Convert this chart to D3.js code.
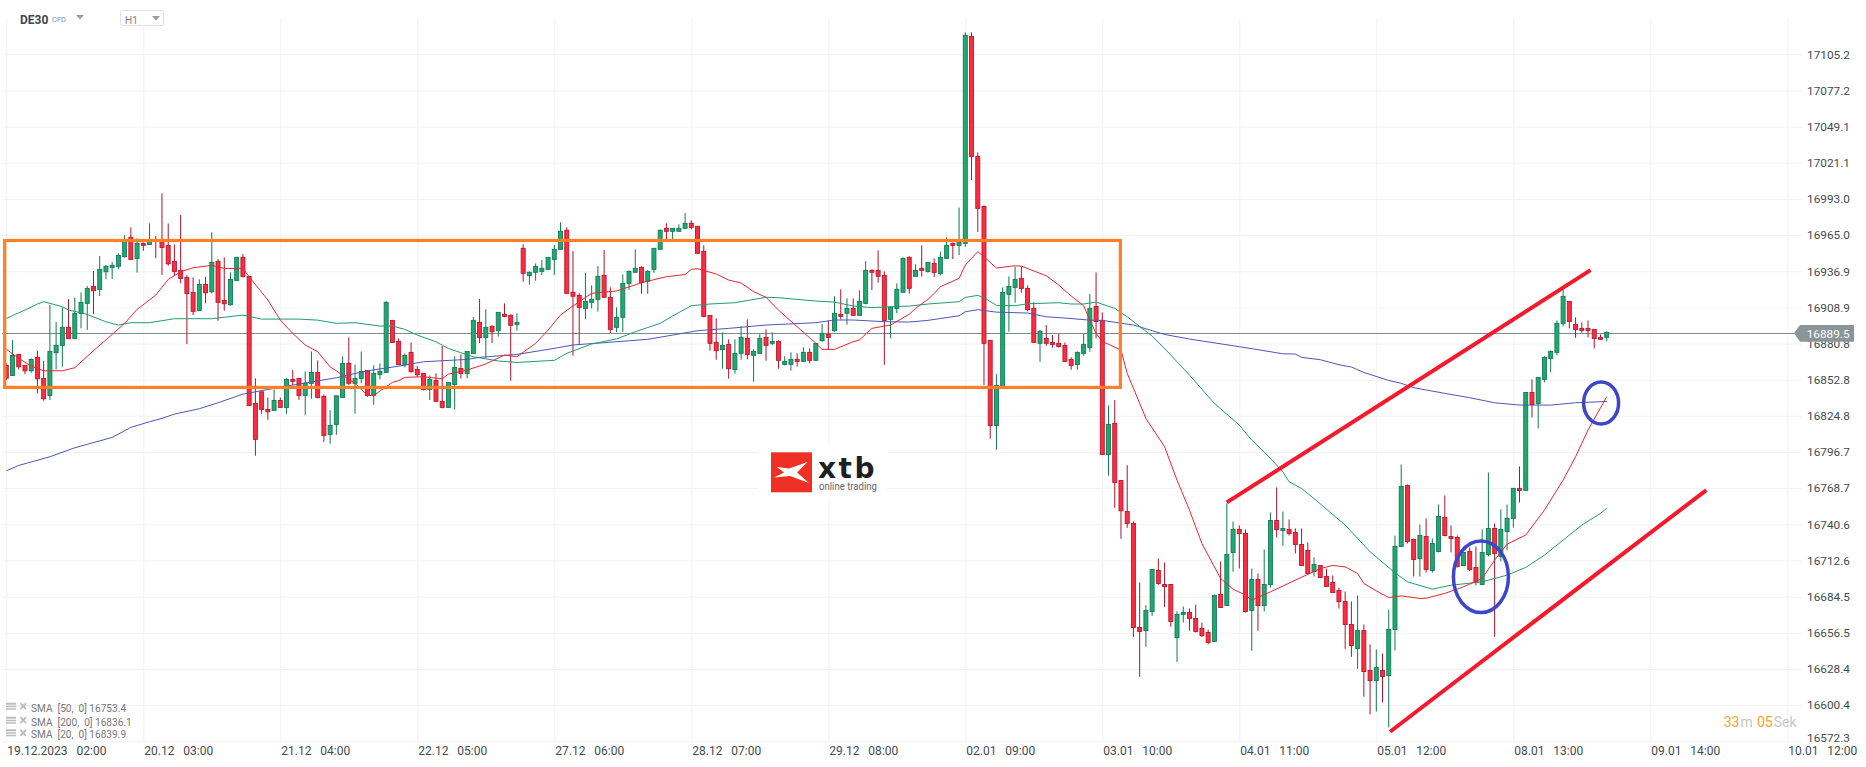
<!DOCTYPE html>
<html>
<head>
<meta charset="utf-8">
<title>DE30 H1</title>
<script src="https://cdn.jsdelivr.net/npm/d3@7"></script>
<style>
  html, body { margin: 0; padding: 0; background: #fff; }
  svg { display: block; font-family: Roboto, sans-serif; }
  text { white-space: pre; }
</style>
</head>
<body>
<svg id="chart" width="1866" height="767"></svg>
<script>
// Values, one entry per hourly bar

var opens = [
  16863.9,16856.1,16872.4,16863.9,16859.7,16870.1,16853.8,16840.6,16873.7,16879.4,
  16893.4,16884.6,16904.2,16912.0,16925.2,16922.8,16936.5,16939.9,16940.7,16948.2,
  16963.2,16946.9,16958.5,16957.7,16961.1,16961.6,16957.0,16944.6,16937.6,16932.1,
  16920.5,16906.5,16926.7,16921.0,16944.6,16914.3,16910.9,16929.8,16947.7,16932.9,
  16834.4,16843.4,16829.7,16829.0,16836.7,16831.3,16853.0,16853.8,16840.6,16850.0,
  16858.4,16839.8,16810.3,16818.1,16839.0,16865.4,16850.0,16853.8,16860.0,16840.6,
  16856.9,16858.4,16898.8,16882.5,16864.4,16874.0,16860.8,16857.7,16845.2,16852.2,
  16836.0,16831.3,16849.1,16861.5,16857.7,16873.0,16897.3,16885.4,16894.2,16890.8,
  16903.5,16902.7,16895.7,16954.7,16933.5,16936.1,16936.8,16938.4,16946.1,16953.9,
  16968.7,16920.6,16918.2,16908.1,16912.8,16915.1,16933.7,16916.7,16893.4,16901.2,
  16927.5,16936.1,16940.0,16929.1,16938.4,16953.9,16970.2,16967.9,16967.9,16970.2,
  16974.1,16971.8,16952.4,16902.7,16881.8,16876.1,16880.2,16860.6,16873.2,16884.9,
  16871.7,16873.2,16885.6,16881.0,16882.5,16864.7,16864.7,16868.6,16867.0,16874.0,
  16867.8,16883.1,16888.0,16890.8,16903.5,16904.3,16908.1,16902.7,16912.0,16937.6,
  16937.6,16933.7,16899.6,16908.1,16920.6,16947.7,16933.0,16939.2,16936.8,16943.0,
  16935.2,16946.9,16958.5,16957.0,16958.5,17119.1,17026.0,16987.2,16883.3,16817.3,
  16847.3,16919.0,16924.4,16931.4,16923.6,16908.1,16881.0,16884.8,16881.7,16881.0,
  16879.4,16868.5,16864.6,16873.2,16877.8,16909.6,16898.8,16794.8,16818.9,16774.6,
  16750.6,16741.3,16660.6,16658.2,16673.0,16704.8,16693.9,16693.9,16652.8,16670.7,
  16672.2,16667.6,16659.8,16656.7,16649.7,16686.2,16677.6,16718.8,16736.6,16733.5,
  16673.8,16697.8,16677.6,16693.9,16743.6,16735.8,16736.6,16734.3,16725.0,16720.3,
  16704.0,16708.7,16700.1,16695.5,16689.3,16680.7,16662.9,16644.3,16658.2,16627.2,
  16619.4,16627.2,16623.3,16659.0,16723.4,16770.7,16728.8,16714.1,16731.2,16704.8,
  16719.5,16745.9,16731.2,16730.4,16708.7,16719.5,16707.1,16693.9,16717.2,16737.4,
  16715.7,16735.1,16745.2,16768.5,16766.9,16842.9,16834.4,16853.0,16869.3,16874.0,
  16896.5,16913.5,16895.7,16892.6,16892.6,16891.8,16885.6,16885.6
];

var highs = [
  16865.4,16883.5,16872.4,16863.9,16869.3,16875.3,16867.2,16910.7,16897.7,16908.9,
  16915.3,16916.6,16920.5,16925.4,16937.1,16948.7,16941.7,16944.0,16950.8,16965.0,
  16970.9,16962.4,16959.3,16974.0,16964.2,16997.3,16974.0,16957.7,16980.5,16934.0,
  16932.1,16930.6,16932.6,16967.1,16946.4,16947.7,16936.0,16947.7,16950.2,16932.9,
  16853.8,16843.4,16839.0,16845.2,16839.0,16853.8,16860.3,16853.8,16859.2,16874.7,
  16867.7,16841.4,16829.2,16840.3,16870.9,16885.6,16864.6,16874.7,16860.0,16863.9,
  16865.4,16913.8,16898.8,16884.8,16873.2,16881.7,16863.3,16857.7,16856.1,16857.7,
  16878.9,16850.7,16870.9,16872.4,16874.7,16901.4,16915.4,16907.4,16895.0,16905.0,
  16912.0,16903.5,16904.3,16957.8,16936.8,16943.0,16945.6,16947.7,16957.3,16974.9,
  16971.0,16952.6,16919.8,16935.6,16926.0,16941.0,16953.4,16924.4,16908.9,16934.5,
  16937.6,16953.9,16940.7,16937.6,16954.7,16969.4,16974.1,16970.2,16973.3,16982.1,
  16976.4,16971.8,16957.0,16902.7,16900.4,16889.5,16884.1,16884.1,16894.2,16899.6,
  16876.3,16888.0,16891.8,16889.5,16883.3,16870.9,16874.0,16873.2,16877.9,16877.1,
  16881.0,16896.0,16898.8,16917.5,16922.9,16915.9,16915.9,16922.1,16944.9,16938.4,
  16953.1,16936.8,16909.7,16927.5,16947.7,16948.5,16942.3,16957.0,16943.8,16946.9,
  16952.1,16963.2,16959.3,16986.4,17122.2,17122.2,17029.1,16988.0,16883.3,16857.1,
  16924.4,16932.9,16940.4,16940.4,16925.9,16912.8,16891.3,16895.2,16887.4,16888.2,
  16881.7,16870.1,16874.7,16888.2,16919.2,16936.0,16905.0,16832.8,16837.0,16774.6,
  16786.5,16742.8,16695.5,16677.9,16705.6,16714.1,16711.0,16693.9,16673.0,16676.9,
  16675.3,16678.4,16664.4,16659.0,16686.2,16711.8,16756.8,16742.8,16739.7,16736.6,
  16706.3,16702.5,16721.1,16749.8,16769.2,16750.6,16744.4,16737.4,16737.4,16726.5,
  16714.9,16708.7,16706.3,16700.9,16691.6,16688.5,16680.7,16685.4,16662.9,16647.4,
  16643.5,16640.4,16674.5,16731.9,16787.0,16771.5,16729.6,16740.5,16745.1,16729.6,
  16756.0,16763.0,16739.7,16731.9,16718.8,16722.6,16723.4,16736.6,16780.8,16741.3,
  16752.2,16756.0,16768.5,16785.5,16842.9,16853.0,16854.6,16870.9,16875.5,16898.8,
  16922.8,16913.5,16901.1,16897.2,16898.8,16891.8,16887.9,16890.3
];

var lows = [
  16852.5,16856.1,16860.8,16857.1,16858.2,16842.2,16836.5,16837.0,16860.8,16862.8,
  16884.6,16884.6,16892.6,16891.3,16903.7,16917.7,16930.6,16930.9,16938.4,16947.4,
  16946.1,16935.8,16952.8,16957.7,16947.1,16934.0,16941.2,16933.7,16927.5,16880.4,
  16902.9,16906.5,16912.0,16919.7,16898.5,16906.3,16910.2,16929.8,16932.1,16832.8,
  16793.8,16826.4,16821.7,16829.0,16831.3,16826.4,16848.4,16837.2,16825.6,16838.0,
  16838.3,16804.6,16803.1,16810.1,16839.0,16848.6,16826.4,16850.0,16839.6,16833.4,
  16853.0,16858.4,16881.7,16864.4,16862.3,16858.2,16855.1,16844.5,16837.0,16836.0,
  16830.5,16831.3,16829.7,16853.8,16853.8,16873.0,16881.2,16869.4,16881.2,16886.2,
  16901.2,16852.0,16890.8,16928.8,16926.5,16929.6,16934.0,16938.4,16934.0,16953.9,
  16919.8,16871.4,16880.2,16899.9,16908.1,16905.6,16916.7,16889.0,16889.8,16889.8,
  16922.4,16936.1,16919.5,16919.5,16935.8,16953.9,16961.7,16961.7,16967.9,16970.2,
  16969.4,16950.8,16901.2,16875.3,16868.3,16861.3,16853.6,16857.4,16868.3,16868.6,
  16851.2,16873.2,16867.5,16879.7,16861.3,16863.9,16859.8,16862.9,16867.0,16865.5,
  16867.8,16882.3,16876.3,16890.0,16899.6,16895.5,16902.7,16902.7,16911.2,16922.4,
  16928.0,16864.4,16884.9,16904.3,16920.6,16919.5,16933.0,16932.7,16935.8,16932.6,
  16933.7,16946.9,16946.4,16949.5,16955.9,17007.7,16967.3,16848.6,16807.0,16798.4,
  16847.3,16890.0,16912.5,16920.2,16905.8,16881.7,16866.7,16879.1,16877.6,16877.8,
  16867.0,16860.5,16860.5,16871.4,16874.5,16884.8,16794.8,16778.3,16753.4,16729.4,
  16737.9,16653.3,16622.3,16645.6,16669.6,16693.7,16676.6,16661.1,16633.9,16664.4,
  16658.2,16656.7,16653.3,16647.4,16649.7,16676.1,16677.6,16703.8,16706.3,16672.2,
  16642.5,16658.0,16673.0,16691.6,16730.4,16723.9,16731.9,16718.0,16708.7,16702.5,
  16700.1,16699.4,16692.4,16687.7,16675.3,16644.0,16637.8,16628.5,16606.8,16593.1,
  16595.4,16602.4,16583.0,16642.7,16723.4,16725.7,16700.1,16700.1,16703.2,16703.2,
  16718.8,16731.2,16718.8,16707.1,16708.7,16704.3,16693.2,16693.9,16715.7,16653.3,
  16712.0,16720.4,16738.0,16757.6,16766.9,16823.5,16815.0,16850.7,16858.5,16871.6,
  16894.1,16892.6,16885.3,16889.2,16885.6,16877.1,16884.1,16882.5
];

var closes = [
  16854.0,16871.6,16862.8,16859.7,16868.5,16853.5,16838.0,16874.7,16879.4,16893.4,
  16884.6,16904.2,16912.8,16923.6,16921.8,16938.4,16940.7,16941.5,16949.2,16960.1,
  16946.1,16958.5,16957.0,16960.1,16960.1,16955.4,16942.7,16936.8,16931.4,16919.7,
  16905.8,16926.7,16920.2,16943.8,16912.8,16911.7,16930.6,16947.7,16932.9,16832.8,
  16806.5,16829.7,16827.9,16836.7,16831.3,16853.0,16851.5,16840.6,16850.0,16858.4,
  16839.0,16809.6,16817.3,16840.3,16865.4,16850.0,16853.8,16859.2,16840.6,16857.7,
  16859.2,16912.8,16881.7,16864.4,16871.6,16859.2,16856.6,16845.2,16853.0,16836.0,
  16831.3,16850.7,16862.3,16857.7,16874.7,16898.8,16885.4,16893.4,16890.0,16905.0,
  16901.9,16895.0,16897.3,16935.3,16936.1,16940.7,16939.2,16947.7,16953.9,16967.9,
  16919.8,16917.5,16908.9,16913.6,16915.1,16933.0,16916.7,16891.8,16901.2,16927.5,
  16936.8,16939.2,16928.3,16936.8,16954.7,16968.7,16967.9,16970.2,16970.2,16974.1,
  16971.0,16950.8,16901.9,16881.0,16875.3,16879.4,16861.3,16873.2,16885.6,16872.4,
  16874.8,16884.9,16879.4,16882.5,16867.8,16867.0,16868.6,16867.0,16874.0,16867.8,
  16881.0,16888.7,16885.6,16904.3,16901.9,16908.1,16902.7,16913.6,16937.6,16936.1,
  16933.0,16898.8,16908.9,16922.9,16946.9,16923.7,16937.6,16937.6,16943.8,16936.0,
  16947.7,16957.0,16957.0,16959.3,17119.9,17026.0,16985.7,16881.0,16817.3,16848.4,
  16920.5,16925.2,16930.6,16923.6,16907.3,16881.7,16890.3,16881.0,16880.2,16878.6,
  16867.0,16863.9,16874.0,16880.2,16908.1,16898.0,16794.8,16818.1,16773.1,16751.1,
  16741.3,16660.6,16657.5,16673.8,16705.6,16694.7,16692.4,16665.2,16670.7,16672.2,
  16667.6,16657.5,16654.4,16649.0,16685.4,16676.1,16717.2,16736.6,16733.5,16673.0,
  16697.8,16677.6,16693.9,16743.6,16736.6,16737.4,16733.5,16725.0,16708.7,16702.5,
  16709.4,16699.4,16692.4,16687.7,16680.7,16662.9,16646.6,16658.2,16626.4,16619.4,
  16629.5,16622.6,16659.0,16723.4,16770.0,16727.3,16713.3,16731.9,16705.6,16725.7,
  16746.7,16731.9,16729.6,16707.9,16718.8,16705.6,16695.5,16718.8,16737.4,16718.0,
  16736.6,16745.2,16768.5,16766.9,16842.9,16833.6,16854.6,16870.1,16874.7,16896.5,
  16917.4,16898.0,16891.8,16891.0,16891.0,16884.8,16884.1,16889.5
];

// Moving averages, read at the bars where the line bends: [bar, price]
var sma20 = [
  [0,16876.5],[2,16869.3],[4,16863.3],[6,16859.7],[9,16859.7],[11,16862.1],[14,16875.3],[17,16887.9],
  [19,16896.5],[21,16907.3],[24,16918.4],[26,16930.6],[28,16936.5],[30,16939.6],[33,16941.5],[35,16939.1],
  [38,16939.1],[39,16932.6],[42,16914.6],[44,16899.0],[46,16888.7],[48,16879.7],[50,16874.5],[52,16862.8],
  [54,16856.4],[56,16850.0],[58,16840.6],[59,16840.6],[62,16850.7],[63,16852.0],[64,16854.6],[67,16855.1],
  [70,16853.5],[71,16857.1],[74,16860.3],[77,16865.0],[80,16871.9],[82,16870.6],[85,16881.0],[87,16891.3],
  [89,16903.0],[91,16910.0],[94,16919.8],[98,16921.6],[102,16928.0],[106,16932.7],[109,16934.3],[110,16938.4],
  [111,16938.9],[114,16934.8],[116,16930.1],[118,16927.8],[120,16921.1],[122,16916.7],[124,16906.8],[127,16893.9],
  [130,16881.0],[131,16876.3],[133,16876.3],[136,16882.3],[137,16883.6],[139,16892.6],[141,16894.4],[142,16895.2],
  [145,16903.5],[146,16908.1],[148,16915.1],[149,16919.7],[150,16924.9],[153,16931.4],[154,16941.7],[156,16952.1],
  [157,16948.2],[159,16939.4],[162,16941.2],[163,16940.9],[167,16933.4],[169,16926.2],[171,16917.7],[173,16910.2],
  [174,16899.0],[175,16888.7],[176,16882.5],[179,16875.8],[180,16857.7],[183,16822.8],[186,16800.8],[188,16774.9],
  [190,16751.6],[192,16725.7],[195,16698.6],[197,16690.3],[199,16685.7],[200,16681.8],[203,16688.2],[207,16697.3],
  [211,16706.3],[213,16708.7],[215,16707.6],[217,16702.5],[218,16694.7],[220,16689.0],[222,16683.8],[224,16685.1],
  [227,16683.1],[228,16683.3],[231,16687.0],[234,16692.1],[237,16698.6],[239,16712.8],[241,16725.2],[244,16732.3],
  [247,16751.7],[250,16774.9],[252,16793.0],[254,16813.7],[257,16839.6]
];

var sma50 = [
  [0,16900.3],[2,16904.7],[3,16906.8],[5,16911.5],[6,16913.3],[7,16912.0],[9,16909.4],[10,16906.8],
  [12,16904.7],[13,16903.4],[16,16897.7],[18,16895.2],[20,16897.0],[23,16897.0],[27,16900.1],[33,16900.1],
  [38,16902.9],[41,16899.8],[47,16899.8],[50,16899.0],[53,16896.5],[56,16897.0],[60,16894.4],[62,16894.4],
  [64,16891.8],[66,16887.4],[69,16882.2],[71,16877.0],[73,16873.7],[75,16870.6],[79,16867.3],[82,16866.2],
  [88,16867.8],[90,16873.2],[94,16880.5],[98,16884.4],[101,16890.0],[105,16896.5],[107,16902.2],[110,16910.2],
  [113,16911.5],[117,16912.5],[122,16916.7],[124,16916.4],[130,16913.8],[133,16913.0],[136,16909.9],[139,16908.7],
  [142,16909.4],[145,16909.9],[148,16911.5],[153,16913.3],[154,16916.6],[156,16918.2],[157,16916.4],[159,16910.4],
  [162,16910.2],[164,16911.7],[169,16912.5],[171,16911.5],[173,16911.5],[175,16913.0],[178,16908.1],[180,16901.6],
  [184,16886.6],[186,16877.0],[190,16856.4],[194,16834.4],[198,16817.6],[200,16805.9],[202,16796.8],[203,16791.7],
  [205,16781.3],[206,16773.6],[208,16768.4],[210,16760.6],[215,16740.0],[219,16719.3],[223,16703.0],[225,16696.0],
  [229,16690.3],[232,16693.4],[237,16696.0],[241,16701.2],[244,16707.2],[247,16716.7],[250,16728.4],[253,16740.0],
  [256,16749.1],[257,16753.0]
];

var sma200 = [
  [0,16782.1],[2,16786.3],[7,16793.0],[11,16800.0],[17,16808.0],[20,16815.8],[23,16820.2],[25,16822.8],
  [27,16826.1],[31,16830.3],[34,16834.9],[38,16841.6],[42,16845.2],[46,16848.6],[53,16854.3],[58,16859.7],
  [63,16863.3],[67,16866.7],[70,16867.5],[74,16868.5],[76,16870.1],[82,16872.4],[88,16877.1],[91,16879.7],
  [96,16881.5],[103,16884.1],[107,16887.4],[111,16890.8],[116,16892.6],[122,16895.2],[130,16897.0],[133,16899.1],
  [136,16899.1],[141,16897.8],[145,16897.5],[148,16898.8],[153,16902.4],[154,16905.5],[156,16907.1],[159,16905.2],
  [164,16904.5],[167,16901.6],[170,16900.6],[174,16899.0],[176,16898.8],[181,16895.2],[184,16890.8],[186,16887.9],
  [190,16884.3],[198,16878.4],[205,16872.9],[207,16872.7],[208,16870.1],[211,16868.3],[214,16864.4],[216,16862.6],
  [218,16858.4],[222,16852.2],[224,16850.0],[226,16846.6],[231,16842.2],[235,16838.8],[239,16834.9],[243,16833.1],
  [248,16833.1],[252,16834.9],[257,16835.9]
];

var yTicks = [17105.2,17077.2,17049.1,17021.1,16993.0,16965.0,16936.9,16908.9,16880.8,16852.8,
  16824.8,16796.7,16768.7,16740.6,16712.6,16684.5,16656.5,16628.4,16600.4,16572.3];
var xTicks = [0,22,44,66,88,110,132,154,176,198,220,242,264,286];
var xLabels = ["19.12.2023   02:00","20.12   03:00","21.12   04:00","22.12   05:00","27.12   06:00",
  "28.12   07:00","29.12   08:00","02.01   09:00","03.01   10:00","04.01   11:00","05.01   12:00",
  "08.01   13:00","09.01   14:00","10.01   12:00"];
var legendLabels = ["SMA  [50,  0] 16753.4","SMA  [200,  0] 16836.1","SMA  [20,  0] 16839.9"];
var lastPrice = 16889.5;

// The hand drawn marks on top of the chart, in bars and prices
var rangeBox = { left: -0.26, right: 178.9, top: 16960.8, bottom: 16846.8 };
var trendLines = [
  [[196.0,16757.6],[254.4,16937.8]],
  [[222.2,16579.7],[273.0,16767.2]]
];
var circles = [[236.8,16699.9],[256.1,16834.7]];
var circleSizes = [[27.5,35.8],[17.5,21]];

var svg = d3.select("#chart");
var x = d3.scaleLinear().domain([0,286]).range([6.3,1787.3]);
var y = d3.scaleLinear().domain([16572.3,17105.2]).range([741.3,54.3]);

// grid and axes
var yAxis = svg.append("g")
  .attr("transform","translate(1802,0)")
  .call(d3.axisRight(y).tickValues(yTicks).tickFormat(d3.format(".1f")).tickSizeInner(-1800).tickSizeOuter(0).tickPadding(5));
yAxis.select(".domain").remove();
yAxis.selectAll("line").attr("stroke","#f1f2f3");
yAxis.selectAll("text")
  .attr("fill","#444c50")
  .style("font-family","Roboto")
  .style("font-size","11.8px");
yAxis.selectAll(".tick").filter(function(d) { return d === 16572.3; })
  .select("text").attr("y",-4);

var xAxis = svg.append("g")
  .attr("transform","translate(0,741.3)")
  .call(d3.axisBottom(x).tickValues(xTicks)
    .tickFormat(function(d,i) { return xLabels[i]; })
    .tickSizeInner(-723).tickSizeOuter(0).tickPadding(0));
xAxis.select(".domain").remove();
xAxis.selectAll("line").attr("stroke","#f1f2f3");
xAxis.selectAll("text")
  .attr("text-anchor","start")
  .attr("x",0.5)
  .attr("y",13.5)
  .attr("dy",0)
  .attr("fill","#444c50")
  .style("font-family","Roboto")
  .style("font-size","12px");

// white patch behind the logo
svg.append("rect").attr("x",758).attr("y",445).attr("width",129).attr("height",55).attr("fill","#fff");
svg.append("rect").attr("x",771).attr("y",452.3).attr("width",41).attr("height",40).attr("fill","#ee3124");
svg.append("path").attr("d","M777,467 L789,468.5 L807.5,462 L797,472.5 L809,483 L790,476 L774,477.5 L784,472.5 Z").attr("fill","#fff");
svg.append("text").attr("x",818).attr("y",478)
  .attr("fill","#1f1f1f")
  .style("font-family","'DejaVu Sans'").style("font-weight","bold").style("font-size","28px").style("letter-spacing","2.5px")
  .text("xtb");
svg.append("text").attr("x",819).attr("y",489.5)
  .attr("fill","#666")
  .attr("textLength",58).attr("lengthAdjust","spacingAndGlyphs")
  .style("font-size","10px")
  .text("online trading");

// last price line
svg.append("line")
  .attr("x1",2).attr("x2",1796)
  .attr("y1",333.5).attr("y2",333.5)
  .attr("stroke","#7f8b8c");

// candles
var bars = d3.range(opens.length);
var candle = svg.append("g").selectAll("g").data(bars).enter().append("g");

function isUp(i) {
  return closes[i] >= opens[i];
}

candle.append("line")
  .attr("x1",function(i) { return x(i); })
  .attr("x2",function(i) { return x(i); })
  .attr("y1",function(i) { return y(highs[i]); })
  .attr("y2",function(i) { return y(lows[i]); })
  .attr("stroke",function(i) { return isUp(i) ? "#0f7a50" : "#a8152a"; })
  .attr("stroke-width",1);

candle.append("rect")
  .attr("x",function(i) { return x(i) - 2; })
  .attr("width",4)
  .attr("y",function(i) { return y(Math.max(opens[i],closes[i])); })
  .attr("height",function(i) { return Math.max(1,Math.abs(y(opens[i]) - y(closes[i]))); })
  .attr("fill",function(i) { return isUp(i) ? "#1fa86f" : "#ff2b41"; })
  .attr("stroke",function(i) { return isUp(i) ? "#15795a" : "#b51b30"; })
  .attr("stroke-width",0.9);

// moving averages
var smaLine = d3.line()
  .x(function(d) { return x(d[0]); })
  .y(function(d) { return y(d[1]); });

svg.append("path").datum(sma200).attr("d",smaLine).attr("fill","none").attr("stroke","#4d58b4").attr("stroke-width",1);
svg.append("path").datum(sma50).attr("d",smaLine).attr("fill","none").attr("stroke","#229b70").attr("stroke-width",1);
svg.append("path").datum(sma20).attr("d",smaLine).attr("fill","none").attr("stroke","#e8262f").attr("stroke-width",1);

// hand drawn marks
svg.append("rect")
  .attr("x",x(rangeBox.left))
  .attr("y",y(rangeBox.top))
  .attr("width",x(rangeBox.right) - x(rangeBox.left))
  .attr("height",y(rangeBox.bottom) - y(rangeBox.top))
  .attr("fill","none")
  .attr("stroke","#ff7f27")
  .attr("stroke-width",3.2);

svg.append("g").selectAll("line").data(trendLines).enter().append("line")
  .attr("x1",function(d) { return x(d[0][0]); })
  .attr("y1",function(d) { return y(d[0][1]); })
  .attr("x2",function(d) { return x(d[1][0]); })
  .attr("y2",function(d) { return y(d[1][1]); })
  .attr("stroke","#f5192e")
  .attr("stroke-width",4);

svg.append("g").selectAll("ellipse").data(circles).enter().append("ellipse")
  .attr("cx",function(d) { return x(d[0]); })
  .attr("cy",function(d) { return y(d[1]); })
  .attr("rx",function(d,i) { return circleSizes[i][0]; })
  .attr("ry",function(d,i) { return circleSizes[i][1]; })
  .attr("fill","none")
  .attr("stroke","#3d45c8")
  .attr("stroke-width",3.5);

// price tag
svg.append("path")
  .attr("d","M1794,333.3 L1800,325 L1854,325 L1854,341.7 L1800,341.7 Z")
  .attr("fill","#8a9599");
svg.append("text").attr("x",1806.7).attr("y",338)
  .attr("fill","#fff")
  .style("font-size","11.8px")
  .text(d3.format(".1f")(lastPrice));

// header
svg.append("text").attr("x",20).attr("y",24).attr("fill","#3a4750")
  .style("font-size","12px").style("font-weight","bold").text("DE30");
svg.append("text").attr("x",52).attr("y",22).attr("fill","#8a8f93")
  .style("font-size","7.5px").text("CFD");
svg.append("path").attr("d","M76,15 L84,15 L80,19.5 Z").attr("fill","#9a9ea2");
svg.append("rect").attr("x",120.5).attr("y",10.5).attr("width",43).attr("height",15).attr("rx",2)
  .attr("fill","#fff").attr("stroke","#dfe1e3");
svg.append("text").attr("x",125).attr("y",24).attr("fill","#7d8285")
  .style("font-size","10px").text("H1");
svg.append("path").attr("d","M152,16 L160,16 L156,20.5 Z").attr("fill","#9a9ea2");

// legend rows
var legendRow = svg.append("g").selectAll("g").data(legendLabels).enter().append("g")
  .attr("transform",function(d,i) { return "translate(0," + [711.7,725.7,738.3][i] + ")"; });
legendRow.append("path")
  .attr("d","M6,-9 h10 v2 h-10 Z M6,-6 h10 v1.5 h-10 Z M6,-3.5 h10 v1.5 h-10 Z")
  .attr("fill","#bcbcbc");
legendRow.append("path")
  .attr("d","M20.5,-8.5 L26,-2.5 M26,-8.5 L20.5,-2.5")
  .attr("stroke","#bcbcbc").attr("stroke-width",1.8);
legendRow.append("text")
  .attr("x",31).attr("y",0)
  .attr("fill","#777")
  .style("font-size","10.1px")
  .text(function(d) { return d; });

// countdown
var countdown = svg.append("text").attr("y",727).style("font-size","14px");
countdown.append("tspan").attr("x",1723.7).attr("fill","#f7a132").text("33");
countdown.append("tspan").attr("x",1740.5).attr("fill","#c4c6c8").text("m");
countdown.append("tspan").attr("x",1757).attr("fill","#f7a132").text("05");
countdown.append("tspan").attr("x",1773.7).attr("fill","#c4c6c8").text("Sek");
</script>
</body>
</html>
